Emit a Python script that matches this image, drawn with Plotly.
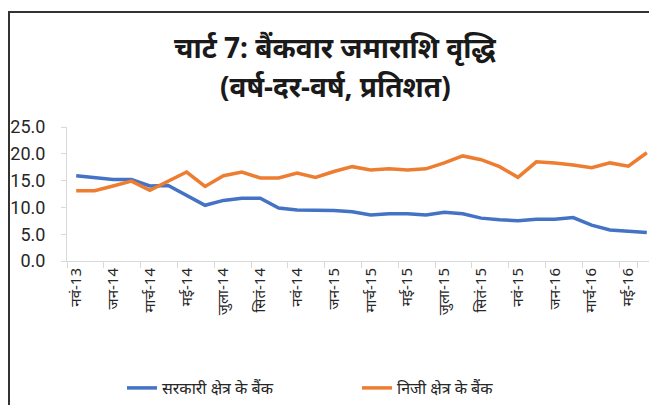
import plotly.graph_objects as go

months = ["नवं-13", "दिसं-13", "जन-14", "फर-14", "मार्च-14", "अप्रै-14", "मई-14", "जून-14",
          "जुला-14", "अग-14", "सितं-14", "अक्टू-14", "नवं-14", "दिसं-14", "जन-15", "फर-15",
          "मार्च-15", "अप्रै-15", "मई-15", "जून-15", "जुला-15", "अग-15", "सितं-15", "अक्टू-15",
          "नवं-15", "दिसं-15", "जन-16", "फर-16", "मार्च-16", "अप्रै-16", "मई-16", "जून-16"]

public_banks = [15.9, 15.6, 15.2, 15.2, 14.0, 14.1, 12.2, 10.4, 11.3, 11.7, 11.7, 9.9,
                9.5, 9.5, 9.4, 9.2, 8.6, 8.8, 8.8, 8.6, 9.1, 8.8, 8.0, 7.7,
                7.5, 7.8, 7.8, 8.1, 6.7, 5.8, 5.5, 5.3]

private_banks = [13.1, 13.1, 14.0, 14.9, 13.2, 14.9, 16.6, 13.9, 15.9, 16.6, 15.5, 15.5,
                 16.4, 15.6, 16.7, 17.6, 17.0, 17.2, 17.0, 17.2, 18.3, 19.6, 18.9, 17.6,
                 15.6, 18.5, 18.3, 17.9, 17.4, 18.3, 17.7, 20.2]

series_names = ["सरकारी क्षेत्र के बैंक", "निजी क्षेत्र के बैंक"]
title_lines = ["चार्ट 7: बैंकवार जमाराशि वृद्धि", "(वर्ष-दर-वर्ष, प्रतिशत)"]
y_ticks = [0, 5, 10, 15, 20, 25]
tick_labels = months[::2]

fig = go.Figure()
fig.add_trace(go.Scatter(x=months, y=public_banks, mode="lines", name=series_names[0],
                         line=dict(color="#4472C4", width=3.5)))
fig.add_trace(go.Scatter(x=months, y=private_banks, mode="lines", name=series_names[1],
                         line=dict(color="#ED7D31", width=3.5)))

# page body adds an 8px offset; figure coordinates below are window pixels minus 8
OFF = 8
W, H = 657 - OFF, 405 - OFF
L, T = 67 - OFF, 127 - OFF
R = W - (656 - OFF)
B = H - (261 - OFF)
pw, ph = W - L - R, H - T - B

def px(x):
    return (x - OFF - L) / pw

def py(y):
    return (H - B - (y - OFF)) / ph

fig.update_layout(
    width=W, height=H,
    margin=dict(l=L, r=R, t=T, b=B, autoexpand=False),
    paper_bgcolor="white", plot_bgcolor="white",
    font=dict(family="Noto Sans, sans-serif", color="#404040"),
    showlegend=True,
    legend=dict(orientation="h", x=px(122), y=py(388), xanchor="left", yanchor="middle",
                entrywidth=190, entrywidthmode="pixels",
                font=dict(size=16, color="#262626"), bgcolor="rgba(0,0,0,0)"),
    xaxis=dict(type="category", tickmode="array", tickvals=tick_labels, ticktext=tick_labels,
               tickangle=-90, tickson="boundaries", ticks="outside", ticklen=6,
               tickcolor="#d9d9d9", showline=True, linecolor="#d9d9d9", linewidth=1,
               showgrid=False, tickfont=dict(size=15, color="#262626"),
               range=[-0.5, len(months) - 0.5]),
    yaxis=dict(range=[0, 25], tickvals=y_ticks, tickformat=".1f", ticks="outside",
               ticklen=5, tickcolor="#d9d9d9", showline=True, linecolor="#d9d9d9",
               showgrid=False, zeroline=False, ticklabelstandoff=12,
               tickfont=dict(size=18, family="Liberation Sans Narrow, Roboto, sans-serif",
                             color="#262626")),
    shapes=[dict(type="rect", xref="paper", yref="paper",
                 x0=px(9), x1=px(700), y0=py(12), y1=py(450),
                 line=dict(color="#333333", width=2), fillcolor="rgba(0,0,0,0)", layer="below")],
    annotations=[
        dict(text="<b>" + title_lines[0] + "</b>", xref="paper", yref="paper",
             x=px(335), y=py(47), xanchor="center", yanchor="middle", showarrow=False,
             font=dict(size=28, color="#1a1a1a")),
        dict(text="<b>" + title_lines[1] + "</b>", xref="paper", yref="paper",
             x=px(335), y=py(86), xanchor="center", yanchor="middle", showarrow=False,
             font=dict(size=28, color="#1a1a1a")),
    ],
)

fig.write_html("out.html")
